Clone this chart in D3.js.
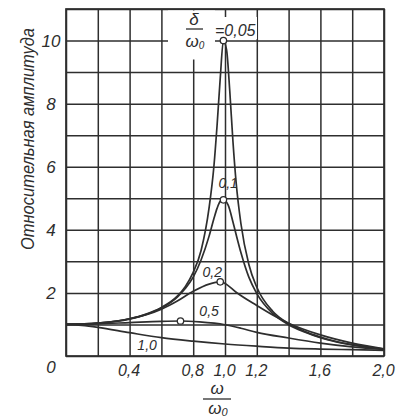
<!DOCTYPE html>
<html>
<head>
    <title>Resonance curves</title>
    <script src="https://d3js.org/d3.v7.min.js"></script>
    <style>
      body { margin: 0; background: #fff; }
    </style>
</head>
<body>
    <div id="chart"></div>
    <script>

// relative frequency / relative amplitude
const omega005 = [0, 0.2, 0.4, 0.5, 0.6, 0.7, 0.75, 0.8, 0.85, 0.9, 0.93, 0.95, 0.97, 0.99, 1.01, 1.03, 1.05, 1.07, 1.1, 1.15, 1.2, 1.3, 1.4, 1.5, 1.6, 1.7, 1.8, 1.9, 2.0];
const amp005   = [1, 1.04, 1.18, 1.32, 1.54, 1.9, 2.2, 2.65, 3.35, 4.7, 6.0, 7.3, 8.8, 10.0, 9.7, 8.4, 6.8, 5.5, 4.2, 2.9, 2.18, 1.42, 1.03, 0.78, 0.6, 0.46, 0.36, 0.28, 0.22];

const omega01 = [0, 0.2, 0.4, 0.5, 0.6, 0.7, 0.75, 0.8, 0.85, 0.9, 0.93, 0.95, 0.97, 0.99, 1.02, 1.05, 1.07, 1.1, 1.15, 1.2, 1.3, 1.4, 1.5, 1.6, 1.7, 1.8, 1.9, 2.0];
const amp01   = [1, 1.04, 1.18, 1.31, 1.52, 1.87, 2.14, 2.5, 3.05, 3.8, 4.35, 4.68, 4.9, 4.95, 4.78, 4.25, 3.85, 3.28, 2.5, 1.98, 1.35, 0.99, 0.76, 0.58, 0.45, 0.35, 0.27, 0.21];

const omega02 = [0, 0.2, 0.4, 0.6, 0.7, 0.8, 0.9, 0.97, 1.0, 1.07, 1.2, 1.3, 1.4, 1.6, 1.8, 2.0];
const amp02   = [1, 1.04, 1.17, 1.48, 1.74, 2.05, 2.28, 2.35, 2.3, 2.02, 1.6, 1.3, 1.04, 0.67, 0.41, 0.23];

const omega05 = [0, 0.2, 0.4, 0.6, 0.72, 0.84, 1.0, 1.1, 1.2, 1.4, 1.6, 1.8, 2.0];
const amp05   = [1, 1.02, 1.06, 1.1, 1.11, 1.08, 0.99, 0.88, 0.75, 0.57, 0.41, 0.29, 0.21];

const omega10 = [0, 0.1, 0.2, 0.4, 0.6, 0.8, 1.0, 1.2, 1.4, 1.6, 1.8, 2.0];
const amp10   = [1, 0.97, 0.91, 0.74, 0.58, 0.47, 0.38, 0.31, 0.25, 0.22, 0.2, 0.18];

// resonance maxima marked with small rings
const peakOmega = [0.99, 0.99, 0.97, 0.72];
const peakAmp   = [10.0, 4.95, 2.35, 1.11];

const xTickLabels = [0.4, 0.8, 1.0, 1.2, 1.6, 2.0];
const yTickLabels = [0, 2, 4, 6, 8, 10];

const series = [
  {name: "0,05", omega: omega005, amp: amp005},
  {name: "0,1",  omega: omega01,  amp: amp01},
  {name: "0,2",  omega: omega02,  amp: amp02},
  {name: "0,5",  omega: omega05,  amp: amp05},
  {name: "1,0",  omega: omega10,  amp: amp10}
];

const width = 401, height = 419;
const mLeft = 66, mRight = 384, mTop = 9, mBottom = 356;
const ink = "#2e2e2e";
const font = "'Liberation Sans', Arial, sans-serif";

const x = d3.scaleLinear().domain([0, 2]).range([mLeft, mRight]);
const y = d3.scaleLinear().domain([0, 11]).range([mBottom, mTop]);
const fmt = d => d3.format(".1f")(d).replace(".", ",");

const svg = d3.create("svg")
    .attr("width", width)
    .attr("height", height)
    .attr("viewBox", [0, 0, width, height])
    .attr("font-family", font)
    .attr("font-style", "italic")
    .style("background", "#fff");

// grid
svg.append("g")
    .attr("transform", `translate(0,${mBottom})`)
    .call(d3.axisBottom(x).tickValues(d3.range(0, 2.01, 0.2)).tickSize(-(mBottom - mTop)).tickFormat(""))
    .call(g => g.select(".domain").remove())
    .call(g => g.selectAll("line").attr("stroke", ink).attr("stroke-width", 1.5));

svg.append("g")
    .attr("transform", `translate(${mLeft},0)`)
    .call(d3.axisLeft(y).tickValues(d3.range(0, 12, 1)).tickSize(-(mRight - mLeft)).tickFormat(""))
    .call(g => g.select(".domain").remove())
    .call(g => g.selectAll("line").attr("stroke", ink).attr("stroke-width", 1.5));

svg.append("rect")
    .attr("x", mLeft).attr("y", mTop)
    .attr("width", mRight - mLeft).attr("height", mBottom - mTop)
    .attr("fill", "none").attr("stroke", ink).attr("stroke-width", 1.7);

// clear the grid behind the parameter label
svg.append("rect").attr("x", 168).attr("y", mTop + 1.5).attr("width", 47).attr("height", 49).attr("fill", "#fff");
svg.append("rect").attr("x", 215).attr("y", 17).attr("width", 42).attr("height", 22).attr("fill", "#fff");

// tick labels
svg.append("g")
    .attr("transform", `translate(0,${mBottom})`)
    .call(d3.axisBottom(x).tickValues(xTickLabels).tickSize(0).tickPadding(9).tickFormat(fmt))
    .call(g => g.select(".domain").remove())
    .call(g => g.selectAll("text")
        .attr("font-size", 16).attr("fill", ink).attr("font-family", font).attr("dx", -1));

svg.append("g")
    .attr("transform", `translate(${mLeft},0)`)
    .call(d3.axisLeft(y).tickValues(yTickLabels).tickSize(0).tickFormat(d3.format("d")))
    .call(g => g.select(".domain").remove())
    .call(g => g.selectAll("text")
        .attr("font-size", 17).attr("fill", ink).attr("font-family", font)
        .attr("text-anchor", "middle").attr("x", -15)
        .attr("dy", d => d === 0 ? "0.95em" : "0.35em"));

// curves
const line = d3.line()
    .x(d => x(d[0]))
    .y(d => y(d[1]))
    .curve(d3.curveMonotoneX);

svg.append("g")
    .attr("fill", "none")
    .attr("stroke", ink)
    .attr("stroke-width", 1.7)
  .selectAll("path")
  .data(series)
  .join("path")
    .attr("d", s => line(s.omega.map((w, i) => [w, s.amp[i]])));

svg.append("g")
  .selectAll("circle")
  .data(peakOmega.map((w, i) => [w, peakAmp[i]]))
  .join("circle")
    .attr("cx", d => x(d[0]))
    .attr("cy", d => y(d[1]))
    .attr("r", 3.2)
    .attr("fill", "#fff")
    .attr("stroke", ink)
    .attr("stroke-width", 1.3);

// curve labels (data coordinates of baseline)
const labelAt = [[1.02, 5.33], [0.92, 2.5], [0.9, 1.26], [0.51, 0.18]];
svg.append("g")
    .attr("font-size", 14)
    .attr("fill", ink)
    .attr("text-anchor", "middle")
  .selectAll("text")
  .data(series.slice(1))
  .join("text")
    .attr("x", (d, i) => x(labelAt[i][0]))
    .attr("y", (d, i) => y(labelAt[i][1]))
    .text(d => d.name);

// parameter label  δ/ω0 = 0,05
const par = svg.append("g").attr("fill", ink);
par.append("text").attr("x", 194).attr("y", 25).attr("font-size", 17).attr("text-anchor", "middle").text("δ");
par.append("line").attr("x1", 186).attr("x2", 203).attr("y1", 29).attr("y2", 29).attr("stroke", ink).attr("stroke-width", 1.3);
par.append("text").attr("x", 195).attr("y", 47).attr("font-size", 17).attr("text-anchor", "middle")
    .text("ω").append("tspan").attr("font-size", 10).attr("dy", 2).text("0");
par.append("text").attr("x", 215).attr("y", 36).attr("font-size", 16).text("=" + series[0].name);

// axis titles
const xt = svg.append("g").attr("fill", ink).attr("text-anchor", "middle");
xt.append("text").attr("x", 217).attr("y", 394).attr("font-size", 17).text("ω");
xt.append("line").attr("x1", 203).attr("x2", 231).attr("y1", 399).attr("y2", 399).attr("stroke", ink).attr("stroke-width", 1.3);
xt.append("text").attr("x", 218).attr("y", 414).attr("font-size", 17)
    .text("ω").append("tspan").attr("font-size", 11).attr("dy", 2).text("0");

svg.append("text")
    .attr("transform", "translate(34,139) rotate(-90)")
    .attr("text-anchor", "middle")
    .attr("font-size", 18)
    .attr("fill", ink)
    .attr("textLength", 222)
    .attr("lengthAdjust", "spacingAndGlyphs")
    .text("Относительная амплитуда");

document.getElementById('chart').appendChild(svg.node());

    </script>
</body>
</html>
